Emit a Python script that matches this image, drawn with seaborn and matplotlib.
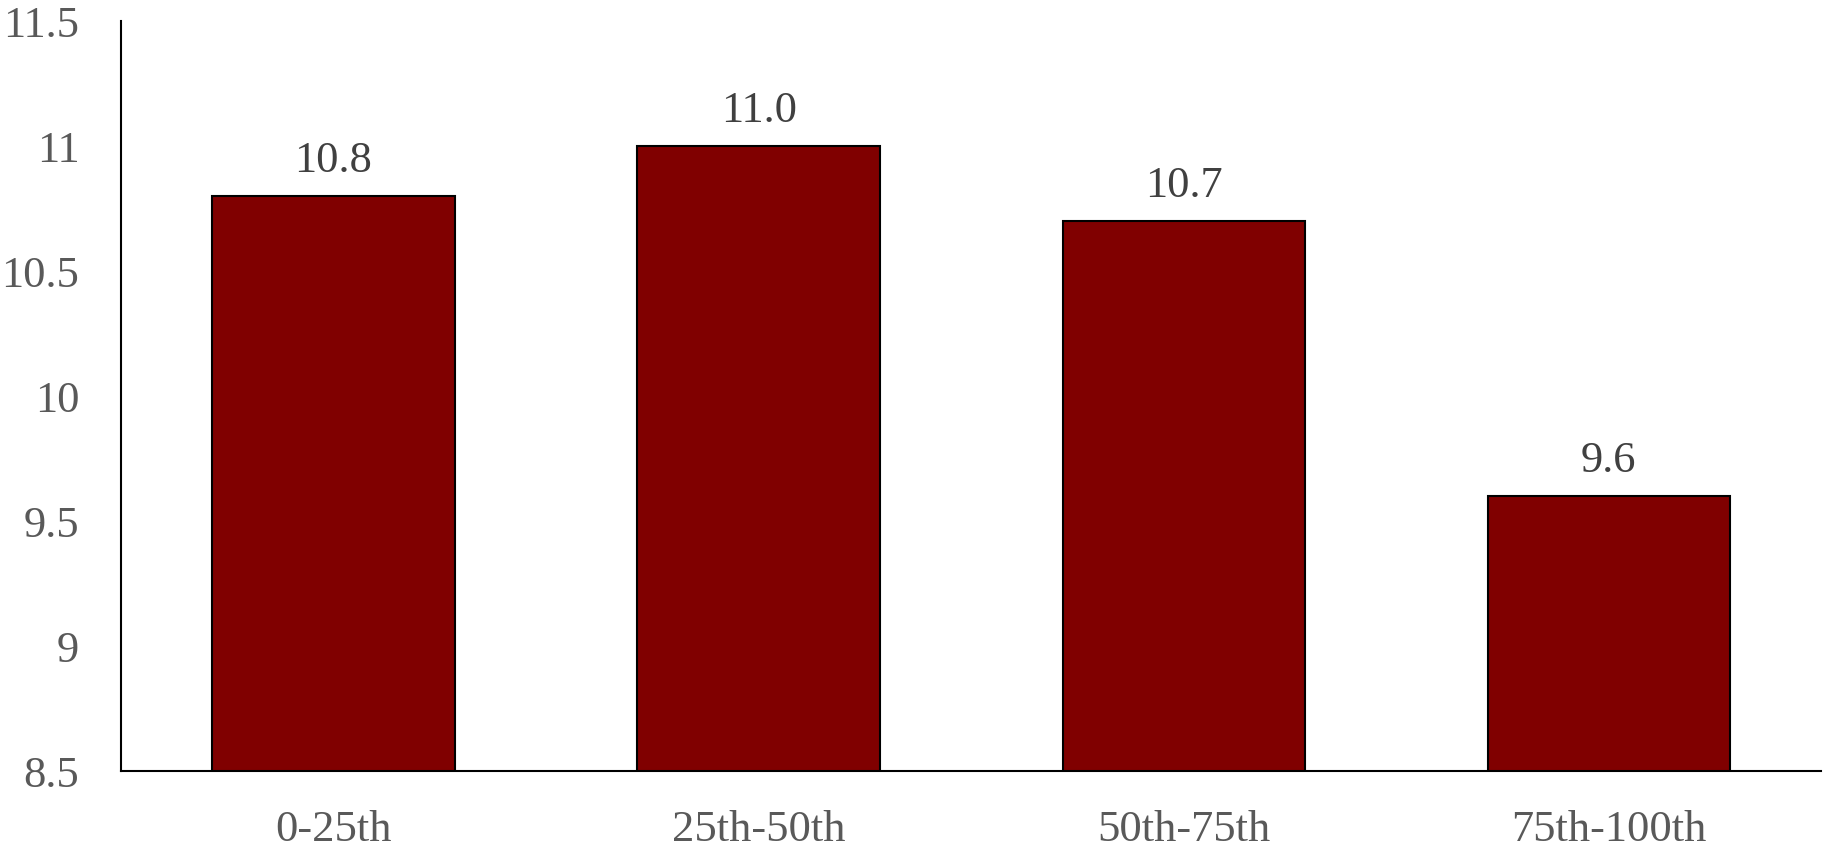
import matplotlib
matplotlib.use("Agg")
import matplotlib.pyplot as plt
import seaborn as sns
import pandas as pd

# dane
kategorie = ["0-25th", "25th-50th", "50th-75th", "75th-100th"]
wartosci = [10.8, 11.0, 10.7, 9.6]
y_ticks = [8.5, 9, 9.5, 10, 10.5, 11, 11.5]
y_tick_labels = ["8.5", "9", "9.5", "10", "10.5", "11", "11.5"]

df = pd.DataFrame({"kat": kategorie, "val": wartosci})

sns.set_style("white")
plt.rcParams["font.family"] = ["Liberation Serif", "DejaVu Serif"]

fig = plt.figure(figsize=(18.25, 8.48), dpi=100)
ax = fig.add_axes([0.0663, 0.0908, 0.9317, 0.8842])

sns.barplot(data=df, x="kat", y="val", color="#800000", saturation=1,
            edgecolor="black", linewidth=1.5, width=0.57, ax=ax)

# etykiety nad słupkami
for p, v in zip(ax.patches, wartosci):
    ax.annotate(f"{v:.1f}", (p.get_x() + p.get_width() / 2, v),
                xytext=(0, 11), textcoords="offset points",
                ha="center", va="bottom", fontsize=32, color="#404040")

ax.set_ylim(8.5, 11.5)
ax.set_xlim(-0.5, 3.5)
ax.set_yticks(y_ticks)
ax.set_yticklabels(y_tick_labels)
ax.set_xlabel("")
ax.set_ylabel("")
ax.tick_params(axis="both", length=0, labelsize=32, labelcolor="#595959")
ax.tick_params(axis="y", pad=30)
ax.tick_params(axis="x", pad=28)

sns.despine(ax=ax)
for s in ["left", "bottom"]:
    ax.spines[s].set_color("black")
    ax.spines[s].set_linewidth(1.5)

fig.savefig("out.png", dpi=100)
